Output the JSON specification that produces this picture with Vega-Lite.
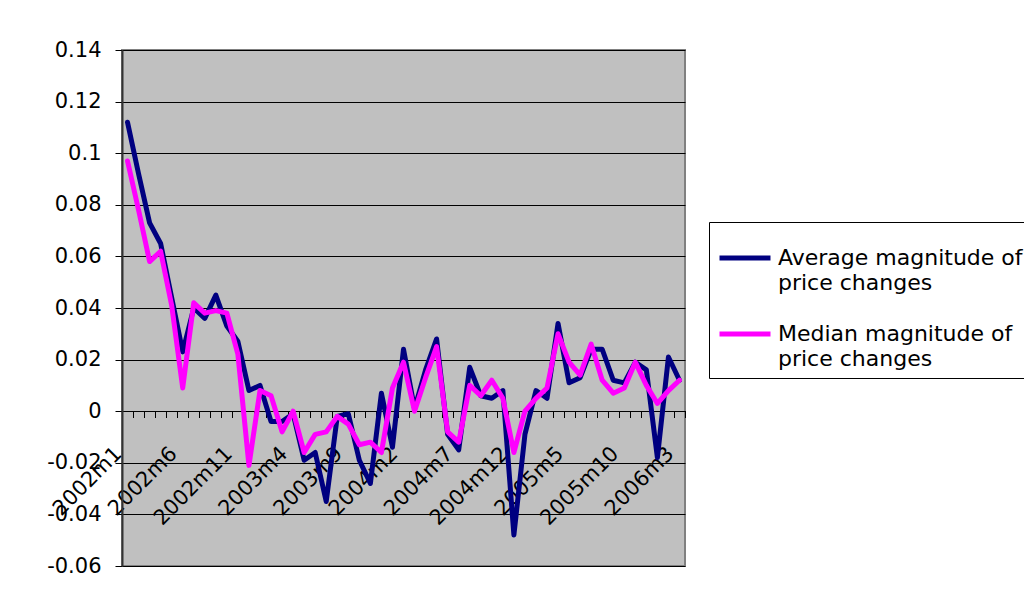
{
  "$schema": "https://vega.github.io/schema/vega-lite/v6.json",
  "width": 563,
  "height": 516,
  "autosize": "none",
  "padding": {"left": 122, "top": 50, "right": 339, "bottom": 36},
  "background": "white",
  "data": {"values": [
    {"month": "2002m1", "avg": 0.112, "med": 0.097},
    {"month": "2002m2", "avg": 0.092, "med": 0.078},
    {"month": "2002m3", "avg": 0.073, "med": 0.058},
    {"month": "2002m4", "avg": 0.065, "med": 0.062},
    {"month": "2002m5", "avg": 0.044, "med": 0.041},
    {"month": "2002m6", "avg": 0.023, "med": 0.009},
    {"month": "2002m7", "avg": 0.040, "med": 0.042},
    {"month": "2002m8", "avg": 0.036, "med": 0.038},
    {"month": "2002m9", "avg": 0.045, "med": 0.039},
    {"month": "2002m10", "avg": 0.033, "med": 0.038},
    {"month": "2002m11", "avg": 0.027, "med": 0.022},
    {"month": "2002m12", "avg": 0.008, "med": -0.021},
    {"month": "2003m1", "avg": 0.010, "med": 0.008},
    {"month": "2003m2", "avg": -0.004, "med": 0.006},
    {"month": "2003m3", "avg": -0.004, "med": -0.008},
    {"month": "2003m4", "avg": -0.001, "med": 0.000},
    {"month": "2003m5", "avg": -0.019, "med": -0.016},
    {"month": "2003m6", "avg": -0.016, "med": -0.009},
    {"month": "2003m7", "avg": -0.035, "med": -0.008},
    {"month": "2003m8", "avg": -0.002, "med": -0.002},
    {"month": "2003m9", "avg": -0.001, "med": -0.005},
    {"month": "2003m10", "avg": -0.019, "med": -0.013},
    {"month": "2003m11", "avg": -0.028, "med": -0.012},
    {"month": "2003m12", "avg": 0.007, "med": -0.016},
    {"month": "2004m1", "avg": -0.014, "med": 0.009},
    {"month": "2004m2", "avg": 0.024, "med": 0.019},
    {"month": "2004m3", "avg": 0.001, "med": 0.000},
    {"month": "2004m4", "avg": 0.016, "med": 0.013},
    {"month": "2004m5", "avg": 0.028, "med": 0.025},
    {"month": "2004m6", "avg": -0.009, "med": -0.008},
    {"month": "2004m7", "avg": -0.015, "med": -0.012},
    {"month": "2004m8", "avg": 0.017, "med": 0.010},
    {"month": "2004m9", "avg": 0.006, "med": 0.006},
    {"month": "2004m10", "avg": 0.005, "med": 0.012},
    {"month": "2004m11", "avg": 0.008, "med": 0.005},
    {"month": "2004m12", "avg": -0.048, "med": -0.016},
    {"month": "2005m1", "avg": -0.009, "med": 0.000},
    {"month": "2005m2", "avg": 0.008, "med": 0.005},
    {"month": "2005m3", "avg": 0.005, "med": 0.009},
    {"month": "2005m4", "avg": 0.034, "med": 0.030},
    {"month": "2005m5", "avg": 0.011, "med": 0.019},
    {"month": "2005m6", "avg": 0.013, "med": 0.014},
    {"month": "2005m7", "avg": 0.024, "med": 0.026},
    {"month": "2005m8", "avg": 0.024, "med": 0.012},
    {"month": "2005m9", "avg": 0.012, "med": 0.007},
    {"month": "2005m10", "avg": 0.011, "med": 0.009},
    {"month": "2005m11", "avg": 0.019, "med": 0.019},
    {"month": "2005m12", "avg": 0.016, "med": 0.010},
    {"month": "2006m1", "avg": -0.018, "med": 0.003},
    {"month": "2006m2", "avg": 0.021, "med": 0.008},
    {"month": "2006m3", "avg": 0.012, "med": 0.012}
  ]},
  "transform": [{"fold": ["avg", "med"], "as": ["series", "value"]}],
  "mark": {"type": "line", "strokeWidth": 5, "strokeJoin": "round", "strokeCap": "round"},
  "encoding": {
    "x": {
      "field": "month", "type": "ordinal", "sort": null,
      "scale": {"type": "band", "paddingInner": 0, "paddingOuter": 0},
      "axis": {
        "title": null, "orient": "bottom", "offset": -155.5, "domain": false, "grid": false,
        "tickBand": "extent", "ticks": true, "tickSize": 7, "tickColor": "#000", "tickWidth": 1,
        "labelAngle": -45, "labelAlign": "right", "labelBaseline": "top", "labelPadding": 25, "labelOffset": -17,
        "labelFont": "DejaVu Sans", "labelFontSize": 21, "labelColor": "#000",
        "labelOverlap": false, "labelBound": false, "labelFlush": false,
        "labelExpr": "indexof(['2002m1','2002m6','2002m11','2003m4','2003m9','2004m2','2004m7','2004m12','2005m5','2005m10','2006m3'], datum.value) >= 0 ? datum.value : ''"
      }
    },
    "y": {
      "field": "value", "type": "quantitative",
      "scale": {"domain": [-0.06, 0.14], "nice": false, "zero": false},
      "axis": {
        "title": null, "values": [-0.06, -0.04, -0.02, 0, 0.02, 0.04, 0.06, 0.08, 0.1, 0.12, 0.14],
        "grid": true, "gridColor": "#000", "gridWidth": 1.2, "gridOpacity": 1,
        "domain": true, "domainColor": "#333", "domainWidth": 2,
        "tickSize": 7, "tickColor": "#000", "tickWidth": 1,
        "labelPadding": 14, "labelFont": "DejaVu Sans", "labelFontSize": 21, "labelColor": "#000",
        "labelExpr": "replace(format(datum.value, '.2~f'), '−', '-')"
      }
    },
    "color": {
      "field": "series", "type": "nominal",
      "scale": {"domain": ["avg", "med"], "range": ["#000080", "#FF00FF"]},
      "legend": {
        "orient": "none", "legendX": 587, "legendY": 172, "title": null,
        "symbolType": "stroke", "symbolStrokeWidth": 5, "symbolSize": 2600,
        "labelFont": "DejaVu Sans", "labelFontSize": 22, "labelColor": "#000", "labelLimit": 500,
        "labelBaseline": "middle", "labelOffset": 5,
        "labelExpr": "datum.value == 'avg' ? ['Average magnitude of', 'price changes'] : ['Median magnitude of', 'price changes']",
        "strokeColor": "#000", "fillColor": "white", "padding": 8, "rowPadding": 12
      }
    }
  },
  "config": {
    "view": {"fill": "#C0C0C0", "stroke": "#808080", "strokeWidth": 2},
    "style": {"guide-label": {"lineHeight": 25}}
  }
}
